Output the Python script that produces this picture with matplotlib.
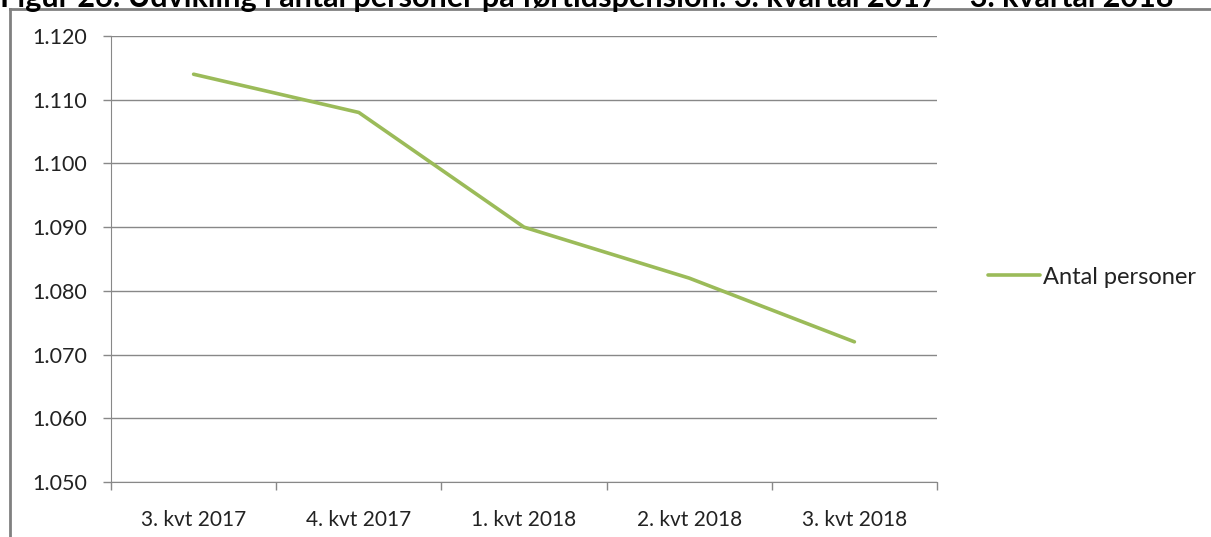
import matplotlib.pyplot as plt
from matplotlib.lines import Line2D

categories = ["3. kvt 2017", "4. kvt 2017", "1. kvt 2018", "2. kvt 2018", "3. kvt 2018"]
antal_personer = [1.114, 1.108, 1.090, 1.082, 1.072]
y_ticks = [1.050, 1.060, 1.070, 1.080, 1.090, 1.100, 1.110, 1.120]
y_labels = ["1.050", "1.060", "1.070", "1.080", "1.090", "1.100", "1.110", "1.120"]
title = "Figur 26: Udvikling i antal personer på førtidspension: 3. kvartal 2017 – 3. kvartal 2018"

plt.rcParams['font.family'] = ['Lato', 'DejaVu Sans']

fig = plt.figure(figsize=(12.11, 5.37), dpi=100)
ax = fig.add_axes([111 / 1211, 1 - 482 / 537, 826 / 1211, 446 / 537])

x = list(range(len(categories)))
ax.plot(x, antal_personer, color="#9BBB59", linewidth=2.6, solid_capstyle="round",
        label="Antal personer")

ax.set_xlim(-0.5, len(categories) - 0.5)
ax.set_ylim(1.050, 1.120)
ax.set_yticks(y_ticks)
ax.set_yticklabels(y_labels, fontsize=15.5, color="#222222")
ax.set_xticks(x)
ax.set_xticklabels(categories, fontsize=15, color="#222222")
ax.tick_params(axis="x", length=0, pad=20)
ax.tick_params(axis="y", length=5.8, width=1, color="#888888", pad=11.5)

# category boundary ticks
ax.set_xticks([i - 0.5 for i in range(len(categories) + 1)], minor=True)
ax.tick_params(axis="x", which="minor", length=5.8, width=1, color="#888888")

ax.grid(axis="y", color="#888888", linewidth=1)
ax.set_axisbelow(True)
for side in ["top", "right"]:
    ax.spines[side].set_visible(False)
ax.spines["left"].set_color("#888888")
ax.spines["bottom"].set_color("#888888")

leg = fig.legend(handles=[Line2D([], [], color="#9BBB59", linewidth=2.6, solid_capstyle="round")],
                 labels=["Antal personer"], loc="center left",
                 bbox_to_anchor=(967 / 1211, 1 - 277 / 537), frameon=False,
                 fontsize=17, handlelength=2.2, handletextpad=0.1)
for t in leg.get_texts():
    t.set_color("#222222")

# outer frame (top and left edges)
fig.add_artist(Line2D([10 / 1211, 1], [1 - 9 / 537, 1 - 9 / 537], color="#808080", linewidth=2))
fig.add_artist(Line2D([10 / 1211, 10 / 1211], [0, 1 - 9 / 537], color="#808080", linewidth=2))

# title, clipped at the top of the image as in the source
fig.text(0.0, 1 - 7 / 537, title, fontsize=22, fontweight="bold", ha="left", va="baseline")

fig.savefig("out.png", dpi=100)
